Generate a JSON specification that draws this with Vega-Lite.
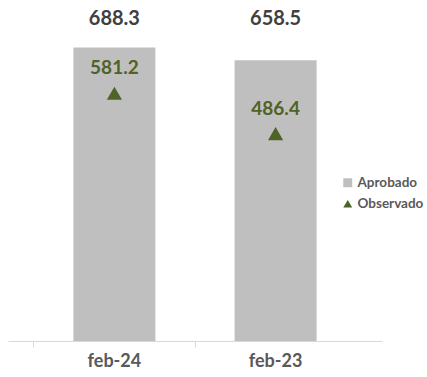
{
  "$schema": "https://vega.github.io/schema/vega-lite/v6.json",
  "width": 374,
  "height": 341,
  "autosize": {"type": "none"},
  "padding": {"left": 8, "top": 0, "right": 45, "bottom": 36},
  "background": "white",
  "config": {
    "view": {"stroke": null},
    "font": "Lato",
    "legend": {
      "title": null,
      "orient": "none",
      "legendX": 333,
      "legendY": 176,
      "padding": 0,
      "labelFont": "Lato",
      "labelFontSize": 13.5,
      "labelFontWeight": "bold",
      "labelColor": "#595959",
      "symbolSize": 80,
      "symbolOpacity": 1,
      "rowPadding": 5,
      "labelOffset": 3
    }
  },
  "data": {
    "values": [
      {"mes": "feb-24", "serie": "Aprobado", "valor": 688.3},
      {"mes": "feb-23", "serie": "Aprobado", "valor": 658.5},
      {"mes": "feb-24", "serie": "Observado", "valor": 581.2},
      {"mes": "feb-23", "serie": "Observado", "valor": 486.4}
    ]
  },
  "encoding": {
    "x": {
      "field": "mes",
      "type": "nominal",
      "sort": ["feb-24", "feb-23"],
      "scale": {"paddingInner": 0, "paddingOuter": 0.16},
      "axis": {
        "title": null,
        "labelAngle": 0,
        "labelFont": "Lato",
        "labelFontSize": 18,
        "labelFontWeight": "bold",
        "labelColor": "#595959",
        "labelPadding": 5,
        "domainColor": "#D9D9D9",
        "tickColor": "#D9D9D9",
        "tickSize": 6,
        "bandPosition": 0,
        "grid": false
      }
    },
    "y": {
      "field": "valor",
      "type": "quantitative",
      "scale": {"domain": [0, 800]},
      "axis": null
    }
  },
  "layer": [
    {
      "transform": [{"filter": "datum.serie == 'Aprobado'"}],
      "mark": {"type": "bar", "size": 82},
      "encoding": {
        "color": {
          "field": "serie",
          "type": "nominal",
          "scale": {"domain": ["Aprobado", "Observado"], "range": ["#BFBFBF", "#4F6228"]}
        }
      }
    },
    {
      "transform": [{"filter": "datum.serie == 'Aprobado'"}],
      "mark": {"type": "text", "baseline": "middle", "fontSize": 20, "fontWeight": "bold", "color": "#404040", "font": "Lato"},
      "encoding": {
        "y": {"datum": 755},
        "text": {"field": "valor", "type": "quantitative", "format": ".1f"}
      }
    },
    {
      "transform": [{"filter": "datum.serie == 'Observado'"}],
      "mark": {"type": "point", "filled": true, "size": 230, "opacity": 1},
      "encoding": {
        "color": {"field": "serie", "type": "nominal"},
        "shape": {
          "field": "serie",
          "type": "nominal",
          "scale": {"domain": ["Aprobado", "Observado"], "range": ["square", "triangle-up"]}
        }
      }
    },
    {
      "transform": [{"filter": "datum.serie == 'Observado'"}],
      "mark": {"type": "text", "baseline": "bottom", "dy": -15, "fontSize": 19, "fontWeight": "bold", "color": "#4F6228", "font": "Lato"},
      "encoding": {"text": {"field": "valor", "type": "quantitative", "format": ".1f"}}
    }
  ]
}
